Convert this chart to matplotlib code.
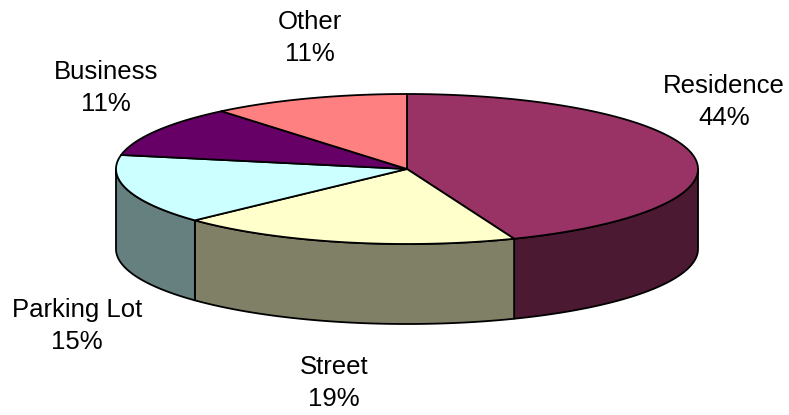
import numpy as np
import matplotlib
matplotlib.use('Agg')
import matplotlib.pyplot as plt
from matplotlib.patches import Polygon

# data
labels = ['Residence', 'Street', 'Parking Lot', 'Business', 'Other']
shares = [44, 19, 15, 11, 11]
top_colors = ['#993366', '#FFFFCC', '#CCFFFF', '#660066', '#FF8080']
side_colors = ['#4C1933', '#808066', '#668080', '#330033', '#804040']

# label anchors in pixel coords (centre of the two-line text)
label_pos = [(724, 102), (334, 383), (77, 326), (106, 88), (310, 38)]

# pie geometry in pixels
cx, cy = 407, 169
rx, ry = 291, 75
depth = 80


def rim(theta_deg, dy=0.0):
    t = np.radians(theta_deg)
    return cx + rx * np.sin(t), cy - ry * np.cos(t) + dy


plt.rcParams['font.family'] = ['Liberation Sans', 'DejaVu Sans']

fig = plt.figure(figsize=(7.89, 4.15), dpi=100)
ax = fig.add_axes([0, 0, 1, 1])
ax.set_xlim(0, 789)
ax.set_ylim(415, 0)
ax.axis('off')

bounds = np.concatenate([[0], np.cumsum(shares)]) / sum(shares) * 360.0

# side walls (only the front half, 90..270 deg, is seen)
for i in range(len(shares)):
    a, b = max(bounds[i], 90), min(bounds[i + 1], 270)
    if b <= a:
        continue
    th = np.linspace(a, b, 120)
    xs, ys = rim(th)
    xb, yb = rim(th[::-1], depth)
    pts = np.column_stack([np.concatenate([xs, xb]), np.concatenate([ys, yb])])
    ax.add_patch(Polygon(pts, closed=True, facecolor=side_colors[i],
                         edgecolor='black', lw=1.3, joinstyle='round'))

# top faces
for i in range(len(shares)):
    th = np.linspace(bounds[i], bounds[i + 1], 200)
    xs, ys = rim(th)
    pts = np.column_stack([np.concatenate([[cx], xs]), np.concatenate([[cy], ys])])
    ax.add_patch(Polygon(pts, closed=True, facecolor=top_colors[i],
                         edgecolor='black', lw=1.3, joinstyle='round'))

for lab, val, (lx, ly) in zip(labels, shares, label_pos):
    ax.text(lx, ly, f'{lab}\n{val}%', ha='center', va='center',
            fontsize=18.5, linespacing=1.45, color='black')

plt.savefig('out.png', dpi=100)
